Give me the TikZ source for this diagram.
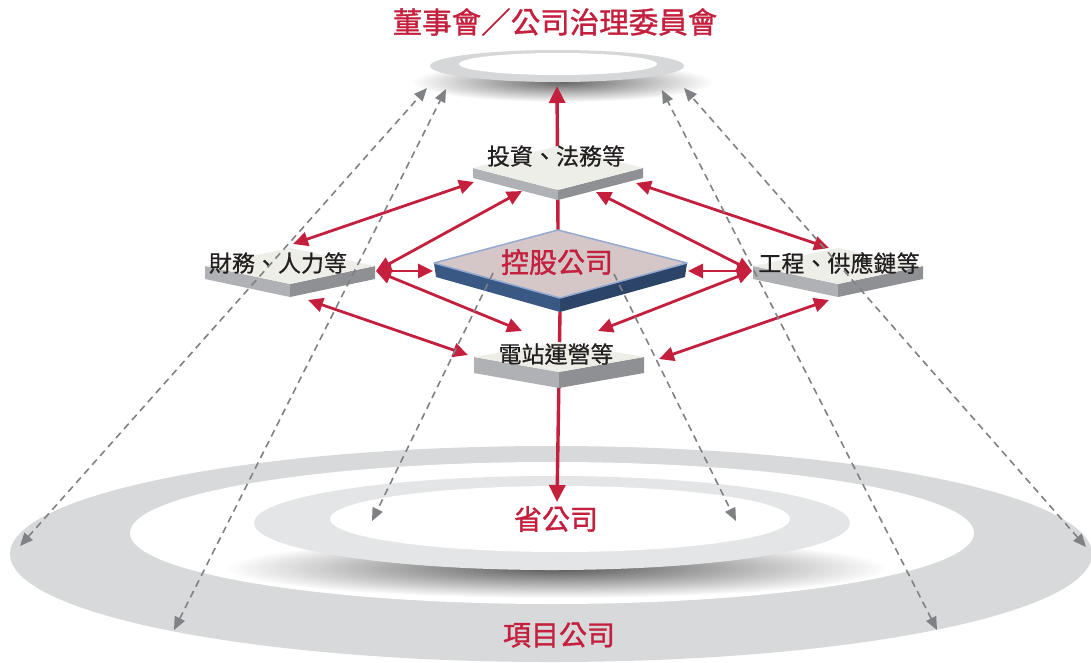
\documentclass[tikz,border=0pt]{standalone}
\usepackage{fontspec}
\newfontfamily\cjk[FakeBold=0.6]{Noto Sans CJK TC}
\newfontfamily\cjkr[FakeBold=1.2]{Noto Sans CJK TC}
\usetikzlibrary{arrows.meta,calc,fadings}
\definecolor{cred}{RGB}{196,32,62}
\definecolor{dgray}{RGB}{128,129,132}
\definecolor{ringc}{RGB}{216,217,219}
\definecolor{discc}{RGB}{228,229,231}
\definecolor{topdisk}{RGB}{214,215,217}
\definecolor{topf}{RGB}{238,238,233}
\definecolor{leftf}{RGB}{176,177,181}
\definecolor{rightf}{RGB}{143,144,148}
\definecolor{ktop}{RGB}{213,198,200}
\definecolor{kedge}{RGB}{148,170,208}
\definecolor{kleft}{RGB}{58,88,132}
\definecolor{kright}{RGB}{44,68,104}
\definecolor{labelc}{RGB}{35,31,32}
\tikzfading[name=softfade, inner color=transparent!0, outer color=transparent!100]
\newcommand{\slab}[5]{% name, x, y, half height, thickness
  \coordinate (#1) at (#2,#3);
  \fill[leftf] ($(#1)+(-85,0)$) -- ($(#1)+(0,#4)$) -- ($(#1)+(0,#4+#5)$) -- ($(#1)+(-85,#5)$) -- cycle;
  \fill[rightf] ($(#1)+(85,0)$) -- ($(#1)+(0,#4)$) -- ($(#1)+(0,#4+#5)$) -- ($(#1)+(85,#5)$) -- cycle;
  \fill[topf] ($(#1)+(-85,0)$) -- ($(#1)+(0,-#4)$) -- ($(#1)+(85,0)$) -- ($(#1)+(0,#4)$) -- cycle;
}
\begin{document}
\begin{tikzpicture}[x=1pt,y=-1pt,
  redarrow/.style={draw=cred, line width=2.8pt, {Triangle[length=15pt,width=14pt]}-{Triangle[length=15pt,width=14pt]}},
  redup/.style={draw=cred, line width=3.4pt, -{Triangle[length=17pt,width=16pt]}},
  dasharrow/.style={draw=dgray, line width=1.6pt, dash pattern=on 7pt off 5pt, {Triangle[length=13pt,width=11pt]}-{Triangle[length=13pt,width=11pt]}},
  dashone/.style={draw=dgray, line width=1.6pt, dash pattern=on 7pt off 5pt, -{Triangle[length=13pt,width=11pt]}},
  boxlabel/.style={font=\cjk\fontsize{23}{23}\selectfont, text=labelc, inner sep=0pt},
  redlabel/.style={font=\cjkr\fontsize{28}{28}\selectfont, text=cred, inner sep=0pt}]
\fill[white] (0,0) rectangle (1091,662);
\useasboundingbox (0,0) rectangle (1091,662);

% bottom rings
\fill[ringc] (551,554) ellipse [x radius=541pt, y radius=108pt];
\fill[white] (552,533) ellipse [x radius=422pt, y radius=71pt];
\fill[black!65, path fading=softfade] (557,568) ellipse [x radius=330pt, y radius=30pt];
\fill[discc] (552,523) ellipse [x radius=298pt, y radius=47pt];
\fill[white] (560,519) ellipse [x radius=230pt, y radius=33pt];

% top disk
\fill[black!60, path fading=softfade] (562,82) ellipse [x radius=150pt, y radius=20pt];
\fill[topdisk] (557,66) ellipse [x radius=127pt, y radius=16pt];
\fill[white] (558,64) ellipse [x radius=99pt, y radius=11pt];

% coordinates
\coordinate (tA) at (557,86);
\coordinate (kT) at (558,231);
\coordinate (kB) at (560,312);
\coordinate (pT) at (557,502);

% vertical arrows
\draw[redup] (kT) -- (tA);
\draw[redup] (kB) -- (pT);

% slabs
\slab{inv}{558}{168}{22}{10}
\slab{fin}{290}{266}{18}{13}
\slab{eng}{838}{266}{18}{13}
\slab{sta}{559}{357}{15}{16}

% holding diamond
\coordinate (kL0) at (434,263);
\coordinate (kBk) at (558,230);
\coordinate (kR0) at (687,263);
\coordinate (kF) at (560,298);
\fill[kleft] (kL0) -- (kF) -- ($(kF)+(0,14)$) -- ($(kL0)+(2,14)$) -- cycle;
\fill[kright] (kF) -- (kR0) -- ($(kR0)+(-2,14)$) -- ($(kF)+(0,14)$) -- cycle;
\filldraw[fill=ktop, draw=kedge, line width=1.5pt, line join=round] (kL0) -- (kBk) -- (kR0) -- (kF) -- cycle;

% anchor coordinates
\coordinate (iL) at (474,182);
\coordinate (iFL) at (522,191);
\coordinate (iFR) at (596,192);
\coordinate (iR) at (636,183);
\coordinate (fT) at (293,244);
\coordinate (fR) at (376,271);
\coordinate (fB) at (308,300);
\coordinate (eT) at (829,248);
\coordinate (eL) at (752,271);
\coordinate (eB) at (829,300);
\coordinate (sL) at (468,355);
\coordinate (sBL) at (522,331);
\coordinate (sBR) at (598,331);
\coordinate (sR) at (659,359);
\coordinate (kL) at (433,271);
\coordinate (kR) at (688,271);

% red arrows
\draw[redarrow] (fT) -- (iL);
\draw[redarrow] (fR) -- (iFL);
\draw[redarrow] (fR) -- (kL);
\draw[redarrow] (fR) -- (sBL);
\draw[redarrow] (fB) -- (sL);
\draw[redarrow] (eT) -- (iR);
\draw[redarrow] (eL) -- (iFR);
\draw[redarrow] (eL) -- (kR);
\draw[redarrow] (eL) -- (sBR);
\draw[redarrow] (eB) -- (sR);

% labels
\node[font=\cjkr\fontsize{29.5}{29.5}\selectfont, text=cred, inner sep=0pt] (title) at (555,22) {董事會／公司治理委員會};
\node[boxlabel] (linv) at (556,156) {投資、法務等};
\node[boxlabel] (lfin) at (278,263) {財務、人力等};
\node[boxlabel] (leng) at (839,263) {工程、供應鏈等};
\node[boxlabel] (lsta) at (556,354) {電站運營等};
\node[redlabel] (lhold) at (557,262) {控股公司};
\node[redlabel] (lprov) at (556,519) {省公司};
\node[redlabel] (lproj) at (559,635) {項目公司};

% dashed arrows
\coordinate (d1a) at (20,546);
\coordinate (d1b) at (427,88);
\coordinate (d2a) at (174,630);
\coordinate (d2b) at (446,89);
\coordinate (d3a) at (937,630);
\coordinate (d3b) at (662,90);
\coordinate (d4a) at (1086,547);
\coordinate (d4b) at (684,88);
\coordinate (c1a) at (493,273);
\coordinate (c1b) at (372,521);
\coordinate (c2a) at (614,274);
\coordinate (c2b) at (736,521);
\draw[dasharrow] (d1a) -- (d1b);
\draw[dasharrow] (d2a) -- (d2b);
\draw[dasharrow] (d3a) -- (d3b);
\draw[dasharrow] (d4a) -- (d4b);
\draw[dashone] (c1a) -- (c1b);
\draw[dashone] (c2a) -- (c2b);
\end{tikzpicture}
\end{document}
